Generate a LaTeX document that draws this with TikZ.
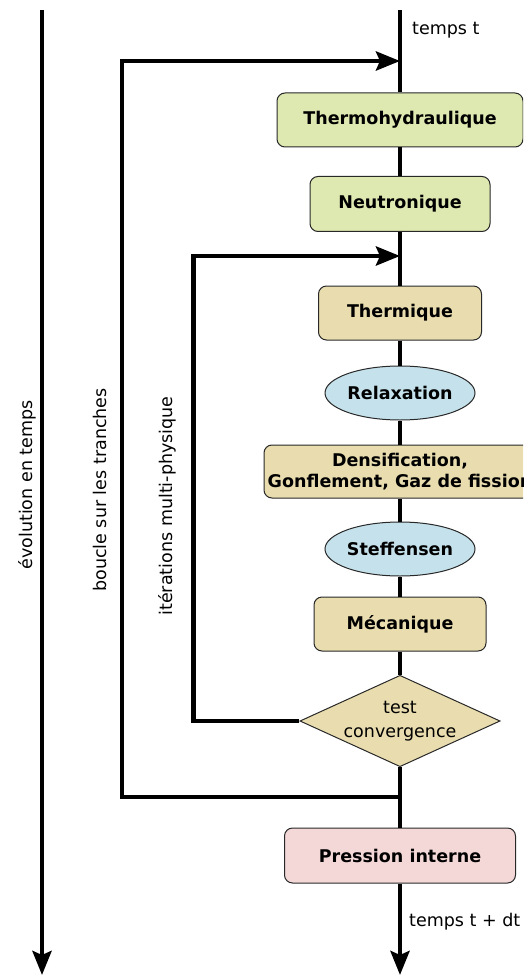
\documentclass[tikz,border=0pt]{standalone}
\usepackage{fontspec}
\setmainfont{DejaVu Sans}
\usetikzlibrary{arrows.meta,shapes.geometric}
\definecolor{cgreen}{RGB}{222,232,177}
\definecolor{ctan}{RGB}{233,221,175}
\definecolor{cblue}{RGB}{197,226,236}
\definecolor{cpink}{RGB}{244,215,215}
\definecolor{cborder}{RGB}{40,40,40}
\begin{document}
\begin{tikzpicture}[x=1pt,y=-1pt,
  every node/.style={font=\fontsize{17.5}{21}\selectfont},
  box/.style={draw=cborder, line width=1pt, rounded corners=8pt, inner sep=0pt, align=center,
    font=\fontsize{17.5}{21}\selectfont\bfseries},
  oval/.style={ellipse, draw=cborder, line width=1pt, fill=cblue, inner sep=0pt,
    minimum width=150pt, minimum height=54pt, font=\fontsize{17.5}{21}\selectfont\bfseries},
  flow/.style={line width=4.5pt},
  tip/.style={-{Stealth[length=24pt,width=19pt,inset=4pt]}},
  lab/.style={inner sep=0pt}]
\useasboundingbox (0,0) rectangle (523,976);
\clip (0,0) rectangle (523,976);

% nodes
\node[box, fill=cgreen, minimum width=246pt, minimum height=54pt] (th) at (400,120) {Thermohydraulique};
\node[box, fill=cgreen, minimum width=180pt, minimum height=55pt] (neu) at (400,204) {Neutronique};
\node[box, fill=ctan, minimum width=163pt, minimum height=54pt] (therm) at (400,313) {Thermique};
\node[oval] (relax) at (400,393) {Relaxation};
\node[box, fill=ctan, minimum width=272pt, minimum height=53pt] (dens) at (400,471.5) {Densification,\\Gonflement, Gaz de fission};
\node[oval] (steff) at (400,549) {Steffensen};
\node[box, fill=ctan, minimum width=172pt, minimum height=54pt] (mec) at (400,624) {Mécanique};
\node[diamond, draw=cborder, line width=1pt, fill=ctan, shape aspect=2.19, minimum width=197pt,
  minimum height=90pt, inner sep=0pt, align=center] (dia) at (400,721) {test\\[3pt]convergence};
\node[box, fill=cpink, minimum width=231pt, minimum height=55pt] (pres) at (400,855.5) {Pression interne};

% coordinates
\coordinate (top) at (400,10);
\coordinate (bot) at (400,975);
\coordinate (ltop) at (42,10);
\coordinate (lbot) at (42,975);
\coordinate (j1) at (400,61);
\coordinate (j2) at (400,256);
\coordinate (split) at (400,797);

% main flow
\draw[flow] (top) -- (th);
\draw[flow] (th) -- (neu);
\draw[flow] (neu) -- (therm);
\draw[flow] (therm) -- (relax);
\draw[flow] (relax) -- (dens);
\draw[flow] (dens) -- (steff);
\draw[flow] (steff) -- (mec);
\draw[flow] (mec) -- (dia);
\draw[flow] (dia) -- (pres);
\draw[flow, tip] (pres) -- (bot);

% time axis
\draw[flow, tip] (ltop) -- (lbot);

% loops
\draw[flow, tip] (split) -- ++(-278,0) |- (j1);
\draw[flow, tip] (dia.west) -- ++(-106,0) |- (j2);

% labels
\node[lab, anchor=base west] (tt) at (412,35) {temps t};
\node[lab, anchor=base west] (tdt) at (409,926) {temps t + dt};
\node[lab, rotate=90] (evo) at (27,485) {évolution en temps};
\node[lab, rotate=90] (bou) at (100,490) {boucle sur les tranches};
\node[lab, rotate=90] (ite) at (167,506) {itérations multi-physique};
\end{tikzpicture}
\end{document}
